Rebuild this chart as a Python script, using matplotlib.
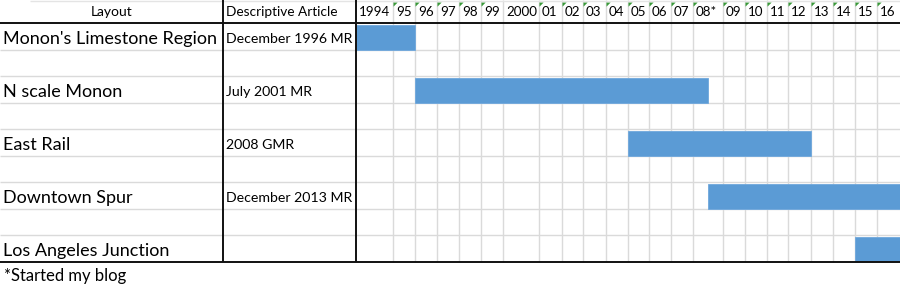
import numpy as np
import matplotlib.pyplot as plt
from matplotlib.transforms import offset_copy

# data
layouts = ["Monon's Limestone Region", "N scale Monon", "East Rail",
           "Downtown Spur", "Los Angeles Junction"]
articles = ["December 1996 MR", "July 2001 MR", "2008 GMR", "December 2013 MR", ""]
start_year = [1994, 1996, 2005, 2008.5, 2015]
end_year = [1996, 2008.5, 2013, 2017, 2017]
year_labels = ["1994", "95", "96", "97", "98", "99", "2000", "01", "02", "03", "04",
               "05", "06", "07", "08*", "09", "10", "11", "12", "13", "14", "15", "16"]
years = np.arange(1994, 2017)
footnote = "*Started my blog"

# sheet geometry (pixels)
W, H = 900, 297
col_px = [37, 22, 22, 22, 22, 22, 36, 23, 21, 23, 22, 21, 22, 22, 30, 22, 22, 21, 23, 22, 22, 22, 23]
x_layout, x_article, x_years = 0, 223, 356
header_h, row_h, n_rows = 23, 26.5, 9
table_bottom = header_h + row_h * n_rows

year_edges = np.arange(1994, 2018)
px_edges = x_years + np.concatenate([[0], np.cumsum(col_px)])

def fwd(x):
    return np.interp(x, year_edges, px_edges)

def inv(p):
    return np.interp(p, px_edges, year_edges)

grid_c = "#dadada"
bar_c = "#5b9bd5"
plt.rcParams['font.family'] = ["Lato", "DejaVu Sans"]

fig = plt.figure(figsize=(9, 2.97), dpi=100)

# gantt area
ax = fig.add_axes([x_years / W, (H - table_bottom) / H, (W - x_years) / W, table_bottom / H])
ax.set_xscale('function', functions=(fwd, inv))
ax.set_xlim(1994, 2017)
hdr = header_h / row_h
ax.set_ylim(n_rows, -hdr)
ax.axis('off')

ax.vlines(year_edges[1:-1], -hdr, n_rows, color=grid_c, lw=1, zorder=1)
ax.hlines(np.arange(1, n_rows), 1994, 2017, color=grid_c, lw=1, zorder=1)

rows = np.arange(len(layouts)) * 2
ax.barh(rows + 0.53, np.array(end_year) - np.array(start_year), left=start_year,
        height=0.94, color=bar_c, edgecolor="#6fa8dc", lw=0.6, zorder=2)

lab_tr = offset_copy(ax.transData, fig=fig, x=3, y=0, units='dots')
for yr, lab in zip(years, year_labels):
    ax.text(yr, -hdr / 2 + 0.03, lab, fontsize=9.6, va='center', ha='left',
            transform=lab_tr)
    if not (len(lab) == 4 and lab.isdigit()):
        ax.plot([yr], [-hdr + 0.06], marker=[(0, 0), (1, 0), (0, -1), (0, 0)],
                ms=6, color="#3a9a3a", mew=0, zorder=3)

# table overlay
tab = fig.add_axes([0, 0, 1, 1])
tab.set_xlim(0, W)
tab.set_ylim(H, 0)
tab.axis('off')
tab.patch.set_alpha(0)

for i in range(1, n_rows):
    tab.hlines(header_h + i * row_h, 0, x_years, color=grid_c, lw=1)
tab.hlines(0.5, 30, W, color="#e4e4e4", lw=1)
tab.hlines([header_h, table_bottom], 0, W, color="#111111", lw=1.4)
tab.vlines([x_article, x_years], 0, table_bottom, color="#111111", lw=1.4)

tab.text((x_layout + x_article) / 2, header_h / 2 + 1, "Layout", fontsize=10,
         ha='center', va='center')
tab.text(x_article + 3, header_h / 2 + 1, "Descriptive Article", fontsize=9.8,
         ha='left', va='center')

for i, (name, art) in enumerate(zip(layouts, articles)):
    yc = header_h + (2 * i + 0.5) * row_h
    tab.text(3, yc + 2.5, name, fontsize=13, ha='left', va='center')
    tab.text(x_article + 3, yc + 3, art, fontsize=10.2, ha='left', va='center')

tab.text(4, table_bottom + 14, footnote, fontsize=12, ha='left', va='center')

fig.savefig("out.png", dpi=100)
